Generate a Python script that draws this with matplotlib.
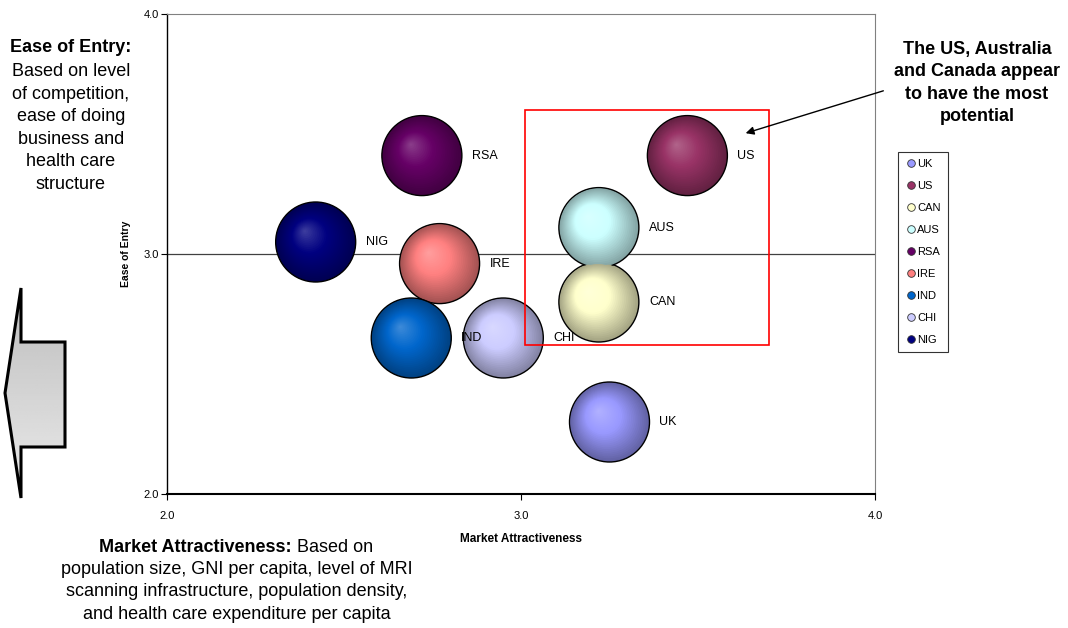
import matplotlib
matplotlib.use("Agg")
import matplotlib.pyplot as plt
import matplotlib.transforms as mtransforms
from matplotlib.patches import Polygon, Rectangle, FancyArrowPatch
from matplotlib.lines import Line2D
from matplotlib.colors import to_rgb
import numpy as np

plt.rcParams['font.family'] = ['Liberation Sans', 'DejaVu Sans']

countries = ['UK', 'US', 'CAN', 'AUS', 'RSA', 'IRE', 'IND', 'CHI', 'NIG']
market = [3.25, 3.47, 3.22, 3.22, 2.72, 2.77, 2.69, 2.95, 2.42]
entry = [2.30, 3.41, 2.80, 3.11, 3.41, 2.96, 2.65, 2.65, 3.05]
colors = ['#9999FF', '#993366', '#FFFFCC', '#CCFFFF', '#660066',
          '#FF8080', '#0066CC', '#CCCCFF', '#000080']
ticks = [2.0, 3.0, 4.0]

W, H = 1068, 628
fig = plt.figure(figsize=(W / 100, H / 100), dpi=100)
ax = fig.add_axes([167 / W, 1 - 494 / H, (875 - 167) / W, (494 - 14) / H])

ax.set_xlim(2.0, 4.0)
ax.set_ylim(2.0, 4.0)
ax.set_xticks(ticks)
ax.set_yticks(ticks)
ax.set_xticklabels([f'{t:.1f}' for t in ticks])
ax.set_yticklabels([f'{t:.1f}' for t in ticks])
ax.tick_params(axis='both', labelsize=8, length=4, width=0.8, direction='out')
ax.tick_params(axis='x', pad=8)
ax.tick_params(axis='y', pad=2)
ax.spines['top'].set_color('#808080')
ax.spines['right'].set_color('#808080')
ax.spines['left'].set_linewidth(1.0)
ax.spines['bottom'].set_linewidth(1.5)
ax.axhline(3.0, color='#404040', lw=0.9, zorder=1)

ax.set_xlabel('Market Attractiveness', fontsize=8.5, fontweight='bold', labelpad=9)
ax.set_ylabel('Ease of Entry', fontsize=7.5, fontweight='bold', labelpad=9)

# shaded spheres built from stacked circles
R = 40 * 72 / 100  # radius in points
n_layers = 28
for i in range(n_layers):
    t = i / n_layers
    r = R * (1 - t)
    dx = -0.28 * R * t / 72
    dy = 0.28 * R * t / 72
    tr = ax.transData + mtransforms.ScaledTranslation(dx, dy, fig.dpi_scale_trans)
    cols = []
    for c in colors:
        base = np.array(to_rgb(c))
        if t < 0.55:
            col = base * (0.64 + 0.36 * t / 0.55)
        else:
            f = (t - 0.55) / 0.45
            col = base + (1 - base) * 0.25 * f
        cols.append(np.clip(col, 0, 1))
    ax.scatter(market, entry, s=(2 * r) ** 2, c=cols, transform=tr,
               edgecolors='black' if i == 0 else 'none',
               linewidths=1.0 if i == 0 else 0, zorder=3 + i * 0.01)

for xv, yv, name in zip(market, entry, countries):
    ax.annotate(name, (xv, yv), xytext=(36, 0), textcoords='offset points',
                fontsize=9, va='center', ha='left', zorder=5)

# highlight box
ax.add_patch(Rectangle((3.01, 2.62), 0.69, 0.98, fill=False,
                       edgecolor='red', lw=1.2, zorder=6))

# legend
handles = [Line2D([], [], marker='o', ls='none', markersize=5.5,
                  markerfacecolor=c, markeredgecolor='#333333', markeredgewidth=0.6)
           for c in colors]
leg = fig.legend(handles, countries, loc='upper left',
                 bbox_to_anchor=(898 / W, 1 - 152 / H), fontsize=8,
                 frameon=True, fancybox=False, edgecolor='black',
                 handletextpad=0.1, labelspacing=1.08, borderpad=0.65,
                 handlelength=1.0, borderaxespad=0)
leg.get_frame().set_linewidth(0.8)

# overlay in pixel coordinates for side texts and arrow shape
ov = fig.add_axes([0, 0, 1, 1], zorder=-1)
ov.set_xlim(0, W)
ov.set_ylim(H, 0)
ov.axis('off')
ov.patch.set_alpha(0)

shape = [(21, 288), (21, 342), (65, 342), (65, 447), (21, 447), (21, 498), (5, 393)]
grad = np.linspace(0.74, 0.92, 100).reshape(-1, 1)
im = ov.imshow(grad, cmap='gray', vmin=0, vmax=1, extent=(5, 65, 498, 288),
               aspect='auto', zorder=1)
poly = Polygon(shape, closed=True, facecolor='none', edgecolor='black',
               lw=2.2, joinstyle='miter', zorder=2)
ov.add_patch(poly)
im.set_clip_path(poly)

fs = 13
ls = 1.42
ov.text(71, 47, 'Ease of Entry:', fontsize=fs, fontweight='bold',
        ha='center', va='center')
ov.text(71, 128, 'Based on level\nof competition,\nease of doing\nbusiness and\nhealth care\nstructure',
        fontsize=fs, ha='center', va='center', linespacing=ls)

bold = ov.text(100, 548, 'Market Attractiveness:', fontsize=fs,
               fontweight='bold', ha='left', va='center')
rest = ov.annotate(' Based on', xy=(1, 0.5), xycoords=bold, fontsize=fs,
                   ha='left', va='center')
ov.text(237, 592, 'population size, GNI per capita, level of MRI\nscanning infrastructure, population density,\nand health care expenditure per capita',
        fontsize=fs, ha='center', va='center', linespacing=ls)

fig.text(977 / W, 1 - 83 / H, 'The US, Australia\nand Canada appear\nto have the most\npotential',
         fontsize=fs, fontweight='bold', ha='center', va='center', linespacing=ls)
fig.add_artist(FancyArrowPatch(
    (886 / W, 1 - 90 / H), (743 / W, 1 - 134 / H), transform=fig.transFigure,
    arrowstyle='-|>', mutation_scale=12, color='black', lw=1.0))

# centre the mixed bold/regular first line
fig.canvas.draw()
r = fig.canvas.get_renderer()
w_total = bold.get_window_extent(r).width + rest.get_window_extent(r).width
bold.set_x(236 - w_total / 2)

fig.savefig('out.png', dpi=100)
